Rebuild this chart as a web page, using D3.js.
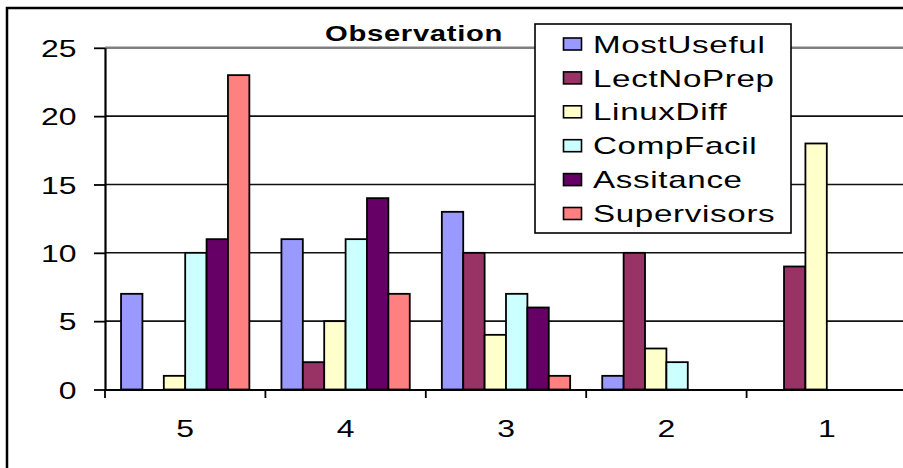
<!DOCTYPE html>
<html>
<head>
<meta charset="utf-8">
<script src="https://cdn.jsdelivr.net/npm/d3@7/dist/d3.min.js"></script>
<style>
  body { margin: 0; background: #fff; }
  svg { display: block; }
  text { font-family: "Liberation Sans", Arial, sans-serif; fill: #000; }
</style>
</head>
<body>
<script>
// Survey answers per rating level (5 = highest)
const categories = ["5", "4", "3", "2", "1"];
const seriesNames = ["MostUseful", "LectNoPrep", "LinuxDiff", "CompFacil", "Assitance", "Supervisors"];
const mostUseful  = [7, 11, 13, 1, 0];
const lectNoPrep  = [0, 2, 10, 10, 9];
const linuxDiff   = [1, 5, 4, 3, 18];
const compFacil   = [10, 11, 7, 2, 0];
const assitance   = [11, 14, 6, 0, 0];
const supervisors = [23, 7, 1, 0, 0];
const yTicks = [0, 5, 10, 15, 20, 25];
const seriesColors = ["#9999FF", "#993366", "#FFFFCC", "#CCFFFF", "#660066", "#FF8080"];
const titleText = "Observation";

const seriesValues = [mostUseful, lectNoPrep, linuxDiff, compFacil, assitance, supervisors];

const W = 903, H = 468;
const plot = { left: 105, right: 907, top: 47.8, bottom: 389.5 };
const sx = 1.33; // horizontal text stretch

const svg = d3.select("body").append("svg").attr("width", W).attr("height", H);

// chart frame
svg.append("rect")
  .attr("x", 7).attr("y", 8).attr("width", 1200).attr("height", 1200)
  .attr("fill", "#fff").attr("stroke", "#000").attr("stroke-width", 2.5);

const x = d3.scaleBand().domain(categories)
  .range([plot.left, plot.right]).paddingInner(0.2).paddingOuter(0.1);
const xs = d3.scaleBand().domain(seriesNames).range([0, x.bandwidth()]).padding(0);
const y = d3.scaleLinear().domain([0, 25]).range([plot.bottom, plot.top]);

// gridlines
svg.append("g").selectAll("line")
  .data(yTicks.filter(t => t > 0))
  .join("line")
  .attr("x1", plot.left).attr("x2", W + 20)
  .attr("y1", d => y(d)).attr("y2", d => y(d))
  .attr("stroke", d => d === 25 ? "#808080" : "#111")
  .attr("stroke-width", d => d === 25 ? 2.4 : 1.6);

// bars
const barData = [];
categories.forEach((c, ci) => {
  seriesNames.forEach((s, si) => {
    const v = seriesValues[si][ci];
    if (v > 0) barData.push({ c, s, v, color: seriesColors[si] });
  });
});
svg.append("g").selectAll("rect")
  .data(barData)
  .join("rect")
  .attr("x", d => x(d.c) + xs(d.s))
  .attr("y", d => y(d.v))
  .attr("width", xs.bandwidth())
  .attr("height", d => y(0) - y(d.v))
  .attr("fill", d => d.color)
  .attr("stroke", "#000")
  .attr("stroke-width", 1.8);

// y axis
const yAxis = svg.append("g")
  .attr("transform", `translate(${plot.left},0)`)
  .call(d3.axisLeft(y).tickValues(yTicks).tickSize(11).tickSizeOuter(0).tickPadding(10.4));
yAxis.select(".domain").attr("stroke", "#000").attr("stroke-width", 2.2);
yAxis.selectAll(".tick line").attr("stroke", "#000").attr("stroke-width", 1.8);
yAxis.selectAll(".tick text")
  .attr("font-size", 24).attr("font-family", "Liberation Sans, Arial, sans-serif")
  .attr("dy", "0.36em")
  .attr("transform", `scale(${sx},1)`);

// x axis
const xAxis = svg.append("g")
  .attr("transform", `translate(0,${plot.bottom})`)
  .call(d3.axisBottom(x).tickSize(0).tickSizeOuter(0).tickPadding(30.5));
xAxis.select(".domain").attr("stroke", "#000").attr("stroke-width", 2.2);
xAxis.selectAll(".tick text")
  .attr("font-size", 24).attr("font-family", "Liberation Sans, Arial, sans-serif")
  .attr("transform", `scale(${sx},1)`);

// category boundary ticks
const halfGap = x.step() * x.paddingInner() / 2;
const bounds = categories.map(c => x(c) - halfGap).concat([x(categories[categories.length - 1]) + x.bandwidth() + halfGap]);
svg.append("g").selectAll("line")
  .data(bounds)
  .join("line")
  .attr("x1", d => d).attr("x2", d => d)
  .attr("y1", plot.bottom).attr("y2", plot.bottom + 8.5)
  .attr("stroke", "#000").attr("stroke-width", 1.8);

// title
svg.append("text")
  .attr("transform", `translate(414,41) scale(${sx},1)`)
  .attr("text-anchor", "middle")
  .attr("font-size", 22).attr("font-weight", "bold")
  .attr("letter-spacing", 0.5)
  .text(titleText);

// legend
const lg = svg.append("g");
lg.append("rect")
  .attr("x", 535).attr("y", 24).attr("width", 256).attr("height", 209)
  .attr("fill", "#fff").attr("stroke", "#000").attr("stroke-width", 1.6);
const rowY = d3.scalePoint().domain(seriesNames).range([44, 213.5]);
const items = lg.selectAll("g.item")
  .data(seriesNames)
  .join("g").attr("class", "item")
  .attr("transform", d => `translate(0,${rowY(d)})`);
items.append("rect")
  .attr("x", 563.5).attr("y", -6).attr("width", 18).attr("height", 12)
  .attr("fill", (d, i) => seriesColors[i])
  .attr("stroke", "#000").attr("stroke-width", 1.6);
items.append("text")
  .attr("transform", `translate(593,8.6) scale(1.38,1)`)
  .attr("font-size", 24)
  .attr("letter-spacing", 0.5)
  .text(d => d);
</script>
</body>
</html>
